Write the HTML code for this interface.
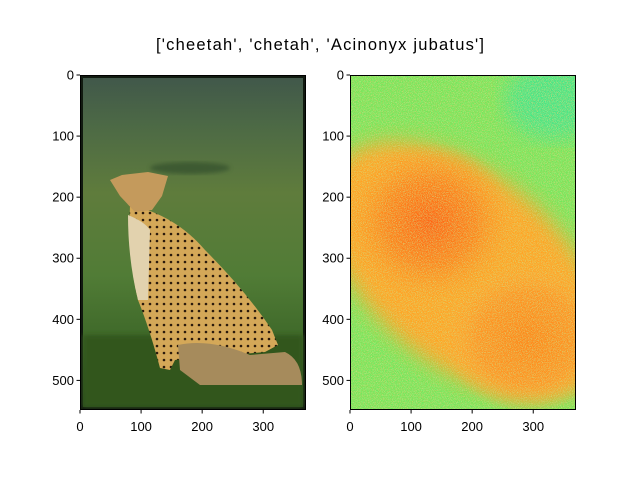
<!DOCTYPE html>
<html><head><meta charset="utf-8"><style>
html,body{margin:0;padding:0;background:#fff;width:640px;height:480px;overflow:hidden}
svg text{font-family:"Liberation Sans","DejaVu Sans",sans-serif;fill:#000}
</style></head><body>
<svg id="fig" width="640" height="480" viewBox="0 0 640 480">
<defs>
<filter id="noiseG" x="0" y="0" width="100%" height="100%">
<feTurbulence type="fractalNoise" baseFrequency="1.2" numOctaves="1" seed="3" result="t"/>
<feColorMatrix in="t" type="matrix" values="0 0 0 0 0.55  0 0 0 0 0.9  0 0 0 0 0.3  0 0 0 4 -1.9" result="n"/>
<feComposite in="n" in2="SourceGraphic" operator="in"/>
</filter>
<filter id="noiseO" x="0" y="0" width="100%" height="100%">
<feTurbulence type="fractalNoise" baseFrequency="1.3" numOctaves="1" seed="9" result="t"/>
<feColorMatrix in="t" type="matrix" values="0 0 0 0 1  0 0 0 0 0.45  0 0 0 0 0.1  0 0 0 4 -1.9" result="n"/>
<feComposite in="n" in2="SourceGraphic" operator="in"/>
</filter>
<filter id="blur8"><feGaussianBlur stdDeviation="10"/></filter>
<filter id="blur3"><feGaussianBlur stdDeviation="2"/></filter>
<linearGradient id="bg" x1="0" y1="0" x2="0" y2="1">
<stop offset="0" stop-color="#41584a"/><stop offset="0.15" stop-color="#4d6a45"/>
<stop offset="0.35" stop-color="#5f7c3c"/><stop offset="0.6" stop-color="#517c36"/>
<stop offset="0.8" stop-color="#3e6829"/><stop offset="1" stop-color="#2a4a1c"/>
</linearGradient>
<pattern id="spots" width="7" height="7" patternUnits="userSpaceOnUse">
<rect width="7" height="7" fill="#d4a858"/><circle cx="3" cy="3" r="1.3" fill="#2a1a0c"/>
</pattern>
<radialGradient id="o1" cx="0.5" cy="0.5" r="0.5">
<stop offset="0" stop-color="#ff6010"/><stop offset="0.55" stop-color="#ff8418"/><stop offset="1" stop-color="#ff9a20" stop-opacity="0"/>
</radialGradient>
<radialGradient id="o2" cx="0.5" cy="0.5" r="0.5">
<stop offset="0" stop-color="#ff8414"/><stop offset="0.6" stop-color="#ff9420"/><stop offset="1" stop-color="#ffa830" stop-opacity="0"/>
</radialGradient>
<clipPath id="c1"><rect x="80" y="75" width="226" height="335"/></clipPath>
<clipPath id="c2"><rect x="350" y="75" width="226" height="335"/></clipPath>
</defs>
<text x="320" y="50" font-size="16.5" text-anchor="middle" textLength="328" lengthAdjust="spacing">['cheetah', 'chetah', 'Acinonyx jubatus']</text>

<g clip-path="url(#c1)">
<rect x="80" y="75" width="226" height="335" fill="#111a10"/>
<rect x="83" y="78" width="220" height="329" fill="url(#bg)"/>
<ellipse cx="190" cy="168" rx="40" ry="6" fill="#3e5a30" filter="url(#blur3)"/>
<rect x="83" y="335" width="220" height="72" fill="#30561f" filter="url(#blur3)"/>
<path d="M130 205 Q175 215 205 250 Q245 290 272 330 L278 345 L265 352 L175 360 L170 370 L160 368 Q150 330 138 300 Q128 260 130 205 Z" fill="url(#spots)"/>
<path d="M128 215 Q145 222 150 230 L148 300 L138 300 Q128 260 128 215 Z" fill="#e2d2ae"/>
<path d="M110 180 L122 175 L148 172 L168 176 L162 196 L152 210 L135 212 L120 196 Z" fill="#c49a5c"/>
<path d="M178 345 Q210 338 250 355 L285 352 Q302 360 302 385 L200 385 L180 370 Z" fill="#a68b5c"/>
</g>
<rect x="80.5" y="75.5" width="225" height="334" fill="none" stroke="#000" stroke-width="1"/>

<g clip-path="url(#c2)">
<rect x="350" y="75" width="226" height="335" fill="#72e85c"/>
<ellipse cx="555" cy="100" rx="50" ry="40" fill="#40e888" filter="url(#blur8)"/>
<ellipse cx="465" cy="270" rx="165" ry="95" transform="rotate(40 465 270)" fill="#ffa424" filter="url(#blur8)"/>
<ellipse cx="430" cy="222" rx="85" ry="80" fill="url(#o1)"/>
<ellipse cx="528" cy="338" rx="85" ry="75" fill="url(#o2)"/>
<rect x="350" y="75" width="226" height="335" fill="#fff" filter="url(#noiseG)" opacity="0.7"/>
<rect x="350" y="75" width="226" height="335" fill="#fff" filter="url(#noiseO)" opacity="0.5"/>
</g>
<rect x="350.5" y="75.5" width="225" height="334" fill="none" stroke="#000" stroke-width="1"/>
<g id="ticks"></g>
</svg>
<script>
const xTicks=[0,100,200,300];
const yTicks=[0,100,200,300,400,500];
const axesLeft=[80,350];
const scale=226/370, top0=75;
const ns="http://www.w3.org/2000/svg", g=document.getElementById('ticks');
function mk(tag,attrs){const e=document.createElementNS(ns,tag);for(const k in attrs)e.setAttribute(k,attrs[k]);g.appendChild(e);return e;}
axesLeft.forEach((x0,ai)=>{
 xTicks.forEach(v=>{const x=x0+v*scale;
  const l=mk('line',{x1:x,x2:x,y1:410,y2:413.5,stroke:'#000'});
  
  
  const t=mk('text',{x:x,y:431,'font-size':13,'text-anchor':'middle'});t.textContent=v;
  
  });
 yTicks.forEach(v=>{const y=top0+v*scale;
  const l=mk('line',{x1:x0-3.5,x2:x0,y1:y,y2:y,stroke:'#000'});
  
  
  const t=mk('text',{x:x0-6,y:y+4.5,'font-size':13,'text-anchor':'end'});t.textContent=v;
  
  });
});
</script>
</body></html>
